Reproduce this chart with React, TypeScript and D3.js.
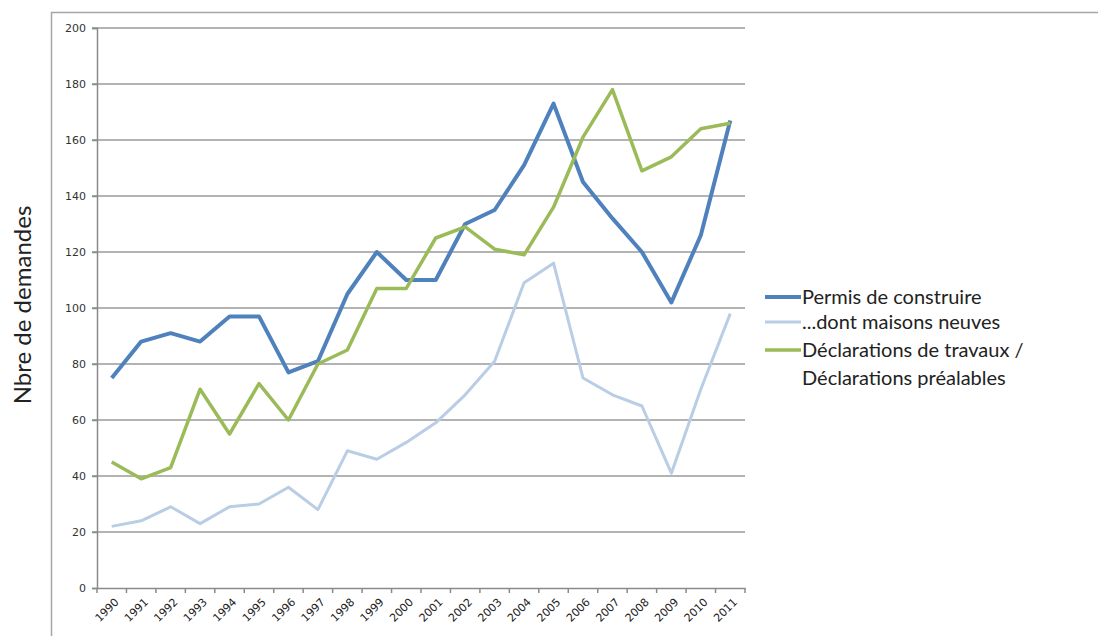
import React, { useEffect, useRef } from 'react'
import * as d3 from 'd3'

const years = ['1990', '1991', '1992', '1993', '1994', '1995', '1996', '1997', '1998', '1999', '2000',
    '2001', '2002', '2003', '2004', '2005', '2006', '2007', '2008', '2009', '2010', '2011']
const permis = [75, 88, 91, 88, 97, 97, 77, 81, 105, 120, 110, 110, 130, 135, 151, 173, 145, 132, 120, 102, 126, 167]
const maisons = [22, 24, 29, 23, 29, 30, 36, 28, 49, 46, 52, 59, 69, 81, 109, 116, 75, 69, 65, 41, 71, 98]
const declarations = [45, 39, 43, 71, 55, 73, 60, 80, 85, 107, 107, 125, 129, 121, 119, 136, 161, 178, 149, 154, 164, 166]
const yTicks = [0, 20, 40, 60, 80, 100, 120, 140, 160, 180, 200]

const series = [
    { name: 'Permis de construire', values: permis, color: '#4f81bd', width: 4 },
    { name: '...dont maisons neuves', values: maisons, color: '#b9cde5', width: 3 },
    { name: 'Déclarations de travaux /|Déclarations préalables', values: declarations, color: '#9bbb59', width: 3.5 },
]

const W = 1098
const H = 636
const margin = { top: 28, right: 353, bottom: 48, left: 97 }

export default function App() {
    const svgRef = useRef<SVGSVGElement | null>(null)

    useEffect(() => {
        const svg = d3.select(svgRef.current)
        svg.selectAll('*').remove()

        const x = d3.scaleBand().domain(years).range([margin.left, W - margin.right])
        const y = d3.scaleLinear().domain([0, 200]).range([H - margin.bottom, margin.top])

        // outer chart frame
        svg.append('rect')
            .attr('x', 51.5).attr('y', 12.5).attr('width', 1100).attr('height', 700)
            .attr('fill', 'none').attr('stroke', '#a6a6a6').attr('stroke-width', 1.5)

        // gridlines
        svg.append('g').selectAll('line').data(yTicks.slice(1)).join('line')
            .attr('x1', margin.left - 5).attr('x2', W - margin.right)
            .attr('y1', (d) => y(d)).attr('y2', (d) => y(d))
            .attr('stroke', '#9a9a9a').attr('stroke-width', 1.5)

        // y axis
        const yAxis = svg.append('g').attr('transform', `translate(${margin.left},0)`)
            .call(d3.axisLeft(y).tickValues(yTicks).tickSize(5).tickPadding(6))
        yAxis.selectAll('path,line').attr('stroke', '#8a8a8a').attr('stroke-width', 1.5)
        yAxis.selectAll('text').attr('font-family', 'DejaVu Sans').attr('font-size', 11).attr('fill', '#333')

        // x axis
        const xAxis = svg.append('g').attr('transform', `translate(0,${H - margin.bottom})`)
            .call(d3.axisBottom(x).tickSize(0).tickPadding(0))
        xAxis.select('path').attr('stroke', '#8a8a8a').attr('stroke-width', 1.5)
        xAxis.selectAll('text')
            .attr('font-family', 'DejaVu Sans').attr('font-size', 11).attr('fill', '#222')
            .attr('text-anchor', 'end')
            .attr('transform', 'translate(5,12) rotate(-45)')
            .attr('dy', '0.35em').attr('y', 0)
        // boundary tick marks
        svg.append('g').selectAll('line').data(d3.range(years.length + 1)).join('line')
            .attr('x1', (i) => margin.left + i * x.step()).attr('x2', (i) => margin.left + i * x.step())
            .attr('y1', H - margin.bottom).attr('y2', H - margin.bottom + 5)
            .attr('stroke', '#8a8a8a').attr('stroke-width', 1.5)

        // lines
        const line = d3.line<number>()
            .x((_, i) => x(years[i])! + x.bandwidth() / 2)
            .y((d) => y(d))
        series.forEach((s) => {
            svg.append('path')
                .attr('d', line(s.values))
                .attr('fill', 'none').attr('stroke', s.color).attr('stroke-width', s.width)
                .attr('stroke-linejoin', 'round')
        })

        // y title
        svg.append('text')
            .attr('transform', 'translate(31,305) rotate(-90)')
            .attr('text-anchor', 'middle')
            .attr('font-family', 'Lato').attr('font-size', 24).attr('fill', '#222')
            .text('Nbre de demandes')

        // legend
        const legendY = [297, 322, 350]
        series.forEach((s, i) => {
            const g = svg.append('g').attr('transform', `translate(765,${legendY[i]})`)
            g.append('line').attr('x1', 0).attr('x2', 36).attr('y1', 0).attr('y2', 0)
                .attr('stroke', s.color).attr('stroke-width', s.width)
            s.name.split('|').forEach((t, j) => {
                g.append('text').attr('x', 37).attr('y', j * 28).attr('dy', '0.35em')
                    .attr('font-family', 'Lato').attr('font-size', 20).attr('fill', '#222')
                    .text(t)
            })
        })
    }, [])

    return <svg ref={svgRef} width={W} height={H} style={{ position: 'absolute', left: 0, top: 0, background: '#fff' }} />
}
